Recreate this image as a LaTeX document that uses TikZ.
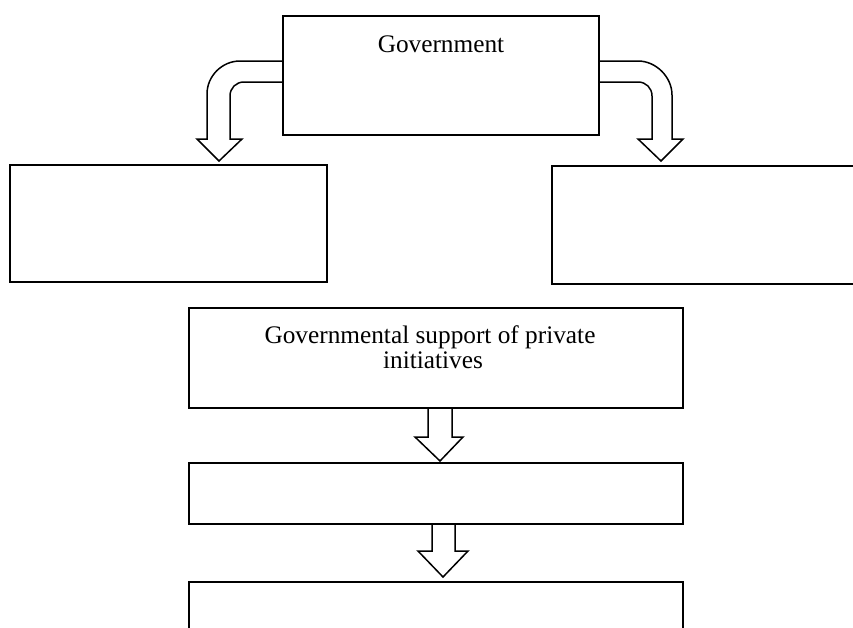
\documentclass[tikz,border=0pt]{standalone}
\usepackage{fontspec}
\setmainfont{Liberation Serif}
\begin{document}
\begin{tikzpicture}[x=1pt,y=-1pt,
  box/.style={draw, line width=2pt, inner sep=0pt, anchor=north west},
  arr/.style={draw, fill=white, line width=1.5pt, line join=miter},
  lbl/.style={font=\fontsize{25.3}{25}\selectfont, inner sep=0pt, anchor=base}]
\clip (0,0) rectangle (853,627);
\fill[white] (0,0) rectangle (853,627);
% curved block arrows
\path[arr] (282,61) -- (240,61) .. controls (222,61) and (207,76) .. (207,94)
  -- (207,139) -- (197,139) -- (219,161) -- (242,139) -- (230,139)
  -- (230,96) .. controls (230,88) and (236,82) .. (244,82) -- (282,82);
\path[arr] (598,61) -- (638,61) .. controls (656,61) and (672,77) .. (672,95)
  -- (672,139) -- (683,139) -- (661,161) -- (638,139) -- (652,139)
  -- (652,96) .. controls (652,88) and (646,82) .. (638,82) -- (598,82);
% straight block arrows
\path[arr] (428,407) -- (428,437) -- (415,437) -- (440,461) -- (463,437) -- (452,437) -- (452,407);
\path[arr] (432,523) -- (432,551) -- (418,551) -- (443,577) -- (468,551) -- (455,551) -- (455,523);
% boxes
\node[box, minimum width=316pt, minimum height=119pt] (gov) at (282,15) {};
\node[box, minimum width=317pt, minimum height=117pt] (left) at (9,164) {};
\node[box, minimum width=349pt, minimum height=118pt] (right) at (551,165) {};
\node[box, minimum width=494pt, minimum height=100pt] (support) at (188,307) {};
\node[box, minimum width=494pt, minimum height=61pt] (mid) at (188,462) {};
\node[box, minimum width=494pt, minimum height=99pt] (bottom) at (188,581) {};
% labels
\node[lbl] (govtext) at (441,52) {Government};
\node[lbl] (suptext1) at (430,343) {Governmental support of private};
\node[lbl] (suptext2) at (433,368) {initiatives};
\end{tikzpicture}
\end{document}
